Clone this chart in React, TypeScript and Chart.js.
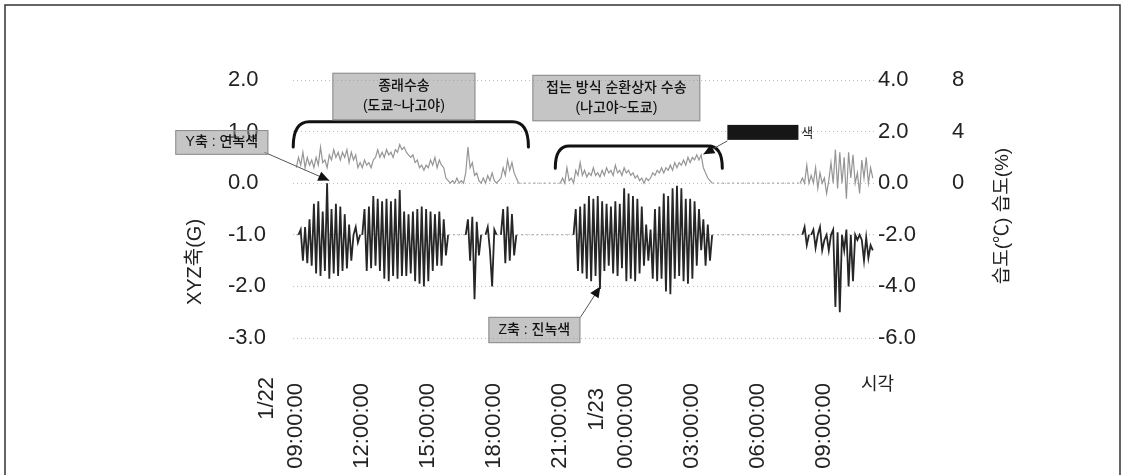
import React, { useEffect, useRef } from 'react';
import { Chart, registerables } from 'chart.js';

Chart.register(...registerables);

// sampling step of the accelerometer trace (hours after 1/22 09:00)
const sampleStepHours = 0.1;

// Z axis acceleration (G), one row per hour, 10 samples per hour
const zAxisG = [
  -1.0, -1.0, -0.9, -1.5, -0.85, -1.55, -0.7, -1.6, -0.4, -1.75,
  -0.35, -1.8, -0.55, -1.7, 0.0, -1.85, -0.5, -1.75, -0.4, -1.8,
  -0.45, -1.7, -0.6, -1.65, -0.8, -1.5, -1.0, -0.85, -1.15, -1.0,
  -1.0, -0.5, -1.7, -0.45, -1.65, -0.25, -1.6, -0.3, -1.7, -0.35,
  -1.85, -0.3, -1.9, -0.35, -1.8, -0.3, -1.85, -0.13, -1.8, -0.55,
  -1.8, -0.6, -1.75, -0.55, -1.9, -0.5, -1.95, -0.45, -2.0, -0.5,
  -1.9, -0.55, -1.7, -0.6, -1.6, -0.55, -1.6, -0.7, -1.4, -1.0,
  -1.0, -1.0, -1.0, -1.0, -1.0, -1.0, -1.0, -1.0, -0.7, -1.5,
  -0.65, -2.25, -0.75, -1.4, -1.0, -1.0, -1.0, -0.85, -1.3, -2.0,
  -0.9, -1.0, -1.0, -1.0, -0.5, -1.55, -0.45, -1.5, -0.6, -1.4,
  -1.0, -1.0, -1.0, -1.0, -1.0, -1.0, -1.0, -1.0, -1.0, -1.0,
  -1.0, -1.0, -1.0, -1.0, -1.0, -1.0, -1.0, -1.0, -1.0, -1.0,
  -1.0, -1.0, -1.0, -1.0, -1.0, -1.0, -1.0, -0.5, -1.7, -0.45,
  -1.75, -0.4, -1.85, -0.25, -1.9, -0.3, -1.8, -0.25, -2.05, -0.35,
  -1.7, -0.4, -1.6, -0.45, -1.75, -0.35, -1.8, -0.4, -1.65, -0.1,
  -1.9, -0.2, -1.85, -0.25, -1.9, -0.3, -1.75, -0.45, -1.6, -0.8,
  -1.5, -0.9, -1.85, -0.5, -1.9, -0.45, -1.85, -0.2, -2.1, -0.25,
  -2.15, -0.1, -1.85, -0.05, -1.8, -0.1, -1.9, -0.3, -1.95, -0.3,
  -1.85, -0.35, -1.6, -0.5, -1.3, -0.7, -1.6, -0.8, -1.5, -1.0,
  -1.0, -1.0, -1.0, -1.0, -1.0, -1.0, -1.0, -1.0, -1.0, -1.0,
  -1.0, -1.0, -1.0, -1.0, -1.0, -1.0, -1.0, -1.0, -1.0, -1.0,
  -1.0, -1.0, -1.0, -1.0, -1.0, -1.0, -1.0, -1.0, -1.0, -1.0,
  -1.0, -1.0, -1.0, -1.0, -1.0, -1.0, -1.0, -1.0, -1.0, -1.0,
  -1.0, -0.85, -1.2, -1.0, -1.0, -0.9, -1.25, -1.0, -0.85, -1.3,
  -1.1, -1.0, -1.3, -1.0, -0.9, -2.4, -0.95, -2.5, -1.0, -1.3,
  -0.9, -2.0, -1.0, -1.9, -1.0, -1.1, -1.0, -1.1, -1.5, -1.05,
  -1.45, -1.2, -1.3,
];

// Y axis acceleration (G), same sampling
const yAxisG = [
  0.3, 0.5, 0.35, 0.6, 0.3, 0.5, 0.35, 0.45, 0.3, 0.5,
  0.35, 0.7, 0.4, 0.45, 0.3, 0.55, 0.45, 0.65, 0.5, 0.6,
  0.45, 0.6, 0.5, 0.65, 0.4, 0.6, 0.45, 0.55, 0.3, 0.4,
  0.3, 0.45, 0.35, 0.4, 0.3, 0.45, 0.5, 0.65, 0.5, 0.6,
  0.5, 0.65, 0.55, 0.6, 0.5, 0.65, 0.6, 0.75, 0.65, 0.7,
  0.6, 0.55, 0.5, 0.55, 0.4, 0.45, 0.3, 0.35, 0.25, 0.35,
  0.3, 0.45, 0.35, 0.5, 0.3, 0.45, 0.35, 0.3, 0.1, 0.05,
  0.0, 0.05, 0.0, 0.1, 0.0, 0.05, 0.0, 0.2, 0.7, 0.3,
  0.4, 0.15, 0.2, 0.05, 0.0, 0.1, 0.0, 0.15, 0.05, 0.2,
  0.05, 0.0, 0.05, 0.1, 0.3, 0.15, 0.45, 0.25, 0.4, 0.2,
  0.1, 0.0, 0.0, 0.0, 0.0, 0.0, 0.0, 0.0, 0.0, 0.0,
  0.0, 0.0, 0.0, 0.0, 0.0, 0.0, 0.0, 0.0, 0.0, 0.0,
  0.0, 0.1, 0.0, 0.3, 0.05, 0.1, 0.0, 0.25, 0.15, 0.4,
  0.15, 0.25, 0.12, 0.2, 0.15, 0.3, 0.15, 0.2, 0.12, 0.25,
  0.15, 0.3, 0.2, 0.25, 0.15, 0.35, 0.2, 0.25, 0.15, 0.3,
  0.2, 0.25, 0.15, 0.2, 0.1, 0.15, 0.05, 0.1, 0.0, 0.1,
  0.05, 0.1, 0.2, 0.15, 0.25, 0.2, 0.3, 0.2, 0.3, 0.25,
  0.35, 0.25, 0.4, 0.3, 0.4, 0.35, 0.45, 0.35, 0.5, 0.4,
  0.5, 0.45, 0.55, 0.45, 0.55, 0.3, 0.2, 0.1, 0.05, 0.0,
  0.0, 0.0, 0.0, 0.0, 0.0, 0.0, 0.0, 0.0, 0.0, 0.0,
  0.0, 0.0, 0.0, 0.0, 0.0, 0.0, 0.0, 0.0, 0.0, 0.0,
  0.0, 0.0, 0.0, 0.0, 0.0, 0.0, 0.0, 0.0, 0.0, 0.0,
  0.0, 0.0, 0.0, 0.0, 0.0, 0.0, 0.0, 0.0, 0.0, 0.0,
  0.1, 0.0, 0.35, 0.0, 0.15, 0.0, 0.3, -0.1, 0.2, 0.0,
  0.1, -0.2, 0.05, 0.4, 0.0, 0.65, -0.1, 0.6, 0.0, 0.5,
  -0.3, 0.6, 0.1, 0.55, 0.0, 0.2, -0.2, 0.45, 0.1, 0.5,
  0.0, 0.3, 0.1,
];

const zRestValue = -1.0;
const yRestValue = 0.0;

// x axis ticks (hours after 1/22 09:00) and their labels
const timeTickHours = [0, 3, 6, 9, 12, 15, 18, 21, 24];
const timeTickLabels = ['09:00:00', '12:00:00', '15:00:00', '18:00:00', '21:00:00', '00:00:00', '03:00:00', '06:00:00', '09:00:00'];
const dateTickHours = [0, 15];
const dateTickLabels = ['1/22', '1/23'];

const leftAxisTitle = 'XYZ축(G)';
const rightAxisTitle = '습도(℃) 습도(%)';
const xAxisTitle = '시각';

const transportNote1 = ['종래수송', '(도쿄~나고야)'];
const transportNote2 = ['접는 방식 순환상자 수송', '(나고야~도쿄)'];
const yCallout = 'Y축 : 연녹색';
const zCallout = 'Z축 : 진녹색';
const xCalloutTail = '색';

const TICK_FONT = '"Liberation Sans", Arial, sans-serif';
const KR_FONT = '"Liberation Sans", "Noto Sans CJK KR", sans-serif';

function drawArrow(ctx: CanvasRenderingContext2D, x0: number, y0: number, x1: number, y1: number) {
  ctx.save();
  ctx.strokeStyle = '#555';
  ctx.lineWidth = 1;
  ctx.beginPath();
  ctx.moveTo(x0, y0);
  ctx.lineTo(x1, y1);
  ctx.stroke();
  const a = Math.atan2(y1 - y0, x1 - x0);
  const len = 11;
  const w = 5;
  ctx.fillStyle = '#111';
  ctx.beginPath();
  ctx.moveTo(x1, y1);
  ctx.lineTo(x1 - len * Math.cos(a) + w * Math.sin(a), y1 - len * Math.sin(a) - w * Math.cos(a));
  ctx.lineTo(x1 - len * Math.cos(a) - w * Math.sin(a), y1 - len * Math.sin(a) + w * Math.cos(a));
  ctx.closePath();
  ctx.fill();
  ctx.restore();
}

function drawNoteBox(ctx: CanvasRenderingContext2D, x0: number, y0: number, x1: number, y1: number, lines: string[], size: number) {
  ctx.save();
  ctx.fillStyle = 'rgba(150,150,150,0.55)';
  ctx.fillRect(x0, y0, x1 - x0, y1 - y0);
  ctx.strokeStyle = '#8c8c8c';
  ctx.lineWidth = 1;
  ctx.strokeRect(x0 + 0.5, y0 + 0.5, x1 - x0 - 1, y1 - y0 - 1);
  ctx.fillStyle = '#111';
  ctx.font = `500 ${size}px ${KR_FONT}`;
  ctx.textAlign = 'center';
  ctx.textBaseline = 'middle';
  const cx = (x0 + x1) / 2;
  const cy = (y0 + y1) / 2;
  const gap = size + 6;
  lines.forEach((t, i) => {
    ctx.fillText(t, cx, cy + (i - (lines.length - 1) / 2) * gap);
  });
  ctx.restore();
}

function drawBrace(ctx: CanvasRenderingContext2D, xl: number, xr: number, yTop: number, yEnd: number, r: number) {
  ctx.save();
  ctx.strokeStyle = '#111';
  ctx.lineWidth = 3;
  ctx.lineCap = 'round';
  ctx.beginPath();
  ctx.moveTo(xl, yEnd);
  ctx.quadraticCurveTo(xl, yTop, xl + r, yTop);
  ctx.lineTo(xr - r, yTop);
  ctx.quadraticCurveTo(xr, yTop, xr, yEnd);
  ctx.stroke();
  ctx.restore();
}

const scanPlugin = {
  id: 'scanAnnotations',
  beforeDraw(chart: any) {
    const { ctx, width, height } = chart;
    ctx.save();
    ctx.fillStyle = '#ffffff';
    ctx.fillRect(0, 0, width, height);
    ctx.restore();
  },
  afterDraw(chart: any) {
    const ctx: CanvasRenderingContext2D = chart.ctx;
    const xs = chart.scales.x;
    const ys = chart.scales.y;
    const X = (h: number) => xs.getPixelForValue(h);
    const Y = (v: number) => ys.getPixelForValue(v);

    // braces over the two transport periods
    drawBrace(ctx, X(-0.14), X(10.55), Y(1.19), Y(0.7), 16);
    drawBrace(ctx, X(11.77), X(19.36), Y(0.72), Y(0.29), 14);

    // note boxes
    drawNoteBox(ctx, X(1.64), Y(2.14), X(8.14), Y(1.22), transportNote1, 14);
    drawNoteBox(ctx, X(10.73), Y(2.1), X(18.36), Y(1.2), transportNote2, 14);

    // callouts
    drawArrow(ctx, X(-1.45), Y(0.6), X(1.5), Y(0.05));
    drawNoteBox(ctx, X(-5.5), Y(1.03), X(-1.27), Y(0.55), [yCallout], 14);

    drawArrow(ctx, X(12.91), Y(-2.6), X(13.82), Y(-2.0));
    drawNoteBox(ctx, X(8.73), Y(-2.59), X(12.91), Y(-3.1), [zCallout], 14);

    drawArrow(ctx, X(19.59), Y(0.82), X(18.5), Y(0.56));
    ctx.save();
    ctx.fillStyle = '#161616';
    ctx.fillRect(X(19.59), Y(1.13), X(22.82) - X(19.59), Y(0.84) - Y(1.13));
    ctx.fillStyle = '#222';
    ctx.font = `13px ${KR_FONT}`;
    ctx.textAlign = 'left';
    ctx.textBaseline = 'middle';
    ctx.fillText(xCalloutTail, X(22.95), Y(0.97));
    ctx.restore();

    // date labels under the time ticks
    ctx.save();
    ctx.fillStyle = '#222';
    ctx.font = `22px ${TICK_FONT}`;
    ctx.textAlign = 'right';
    ctx.textBaseline = 'middle';
    dateTickHours.forEach((h, i) => {
      ctx.save();
      ctx.translate(X(h) - 29, i === 0 ? 377 : 388);
      ctx.rotate(-Math.PI / 2);
      ctx.fillText(dateTickLabels[i], 0, 0);
      ctx.restore();
    });
    ctx.restore();

    // axis titles
    ctx.save();
    ctx.fillStyle = '#222';
    ctx.textAlign = 'center';
    ctx.textBaseline = 'middle';
    ctx.font = `20px ${KR_FONT}`;
    ctx.save();
    ctx.translate(195, 262);
    ctx.rotate(-Math.PI / 2);
    ctx.fillText(leftAxisTitle, 0, 0);
    ctx.restore();
    ctx.save();
    ctx.font = `19px ${KR_FONT}`;
    ctx.translate(1003, 216);
    ctx.rotate(-Math.PI / 2);
    ctx.fillText(rightAxisTitle, 0, 0);
    ctx.restore();
    ctx.font = `18px ${KR_FONT}`;
    ctx.textAlign = 'left';
    ctx.fillText(xAxisTitle, 861, 385);
    ctx.restore();

    // outer frame
    ctx.save();
    ctx.strokeStyle = '#333';
    ctx.lineWidth = 1.5;
    ctx.strokeRect(5, 5, 1115, 490);
    ctx.restore();
  },
};

export default function App() {
  const ref = useRef<HTMLCanvasElement>(null);

  useEffect(() => {
    const canvas = ref.current;
    if (!canvas) return;

    const zPoints = zAxisG.map((v, i) => ({ x: i * sampleStepHours, y: v }));
    const yPoints = yAxisG.map((v, i) => ({ x: i * sampleStepHours, y: v }));
    const isRest = (ctx: any, rest: number) =>
      Math.abs(ctx.p0.parsed.y - rest) < 1e-9 && Math.abs(ctx.p1.parsed.y - rest) < 1e-9;

    const tickColor = '#222';
    const tickFont = { family: TICK_FONT, size: 22 };

    const chart = new Chart(canvas, {
      type: 'line',
      data: {
        datasets: [
          {
            label: 'Y축',
            data: yPoints,
            yAxisID: 'y',
            borderColor: '#959595',
            borderWidth: 1.2,
            pointRadius: 0,
            tension: 0,
            segment: {
              borderColor: (c: any) => (isRest(c, yRestValue) ? '#a8a8a8' : undefined),
              borderDash: (c: any) => (isRest(c, yRestValue) ? [2, 3] : undefined),
            },
          },
          {
            label: 'Z축',
            data: zPoints,
            yAxisID: 'y',
            borderColor: '#262626',
            borderWidth: 1.8,
            pointRadius: 0,
            tension: 0,
            segment: {
              borderColor: (c: any) => (isRest(c, zRestValue) ? '#9a9a9a' : undefined),
              borderDash: (c: any) => (isRest(c, zRestValue) ? [2, 3] : undefined),
              borderWidth: (c: any) => (isRest(c, zRestValue) ? 1 : undefined),
            },
          },
        ],
      },
      options: {
        animation: false,
        responsive: false,
        maintainAspectRatio: false,
        events: [],
        layout: { padding: { left: 228, top: 80, right: 116, bottom: 0 } },
        plugins: { legend: { display: false }, tooltip: { enabled: false }, title: { display: false } },
        scales: {
          x: {
            type: 'linear',
            position: 'bottom',
            min: -0.15,
            max: 26.3,
            grid: { display: false, drawTicks: false },
            border: { display: false },
            afterBuildTicks: (scale: any) => {
              scale.ticks = timeTickHours.map((v) => ({ value: v }));
            },
            afterFit: (scale: any) => {
              scale.height = 137;
            },
            ticks: {
              autoSkip: false,
              minRotation: 90,
              maxRotation: 90,
              padding: 45,
              color: tickColor,
              font: tickFont,
              callback: (_v: any, i: number) => timeTickLabels[i],
            },
          },
          y: {
            position: 'left',
            min: -3,
            max: 2,
            grid: { color: '#bdbdbd', drawTicks: false },
            border: { display: false, dash: [1, 3] },
            afterFit: (scale: any) => {
              scale.width = 65;
            },
            ticks: {
              stepSize: 1,
              crossAlign: 'far',
              color: tickColor,
              font: tickFont,
              callback: (v: any) => Number(v).toFixed(1),
            },
          },
          y1: {
            position: 'right',
            weight: 0,
            min: -6,
            max: 4,
            grid: { display: false, drawTicks: false },
            border: { display: false },
            afterFit: (scale: any) => {
              scale.width = 74;
            },
            ticks: {
              stepSize: 2,
              padding: 3,
              color: tickColor,
              font: tickFont,
              callback: (v: any) => Number(v).toFixed(1),
            },
          },
          y2: {
            position: 'right',
            weight: 1,
            min: -12,
            max: 8,
            grid: { display: false, drawTicks: false },
            border: { display: false },
            afterFit: (scale: any) => {
              scale.width = 60;
            },
            ticks: {
              stepSize: 4,
              padding: 3,
              color: tickColor,
              font: tickFont,
              callback: (v: any) => (Number(v) >= 0 ? String(v) : ''),
            },
          },
        },
      },
      plugins: [scanPlugin],
    } as any);

    return () => chart.destroy();
  }, []);

  return (
    <div style={{ position: 'fixed', left: 0, top: 0, width: 1125, height: 475, background: '#fff', overflow: 'hidden' }}>
      <canvas ref={ref} width={1125} height={475} style={{ display: 'block', width: 1125, height: 475 }} />
    </div>
  );
}
